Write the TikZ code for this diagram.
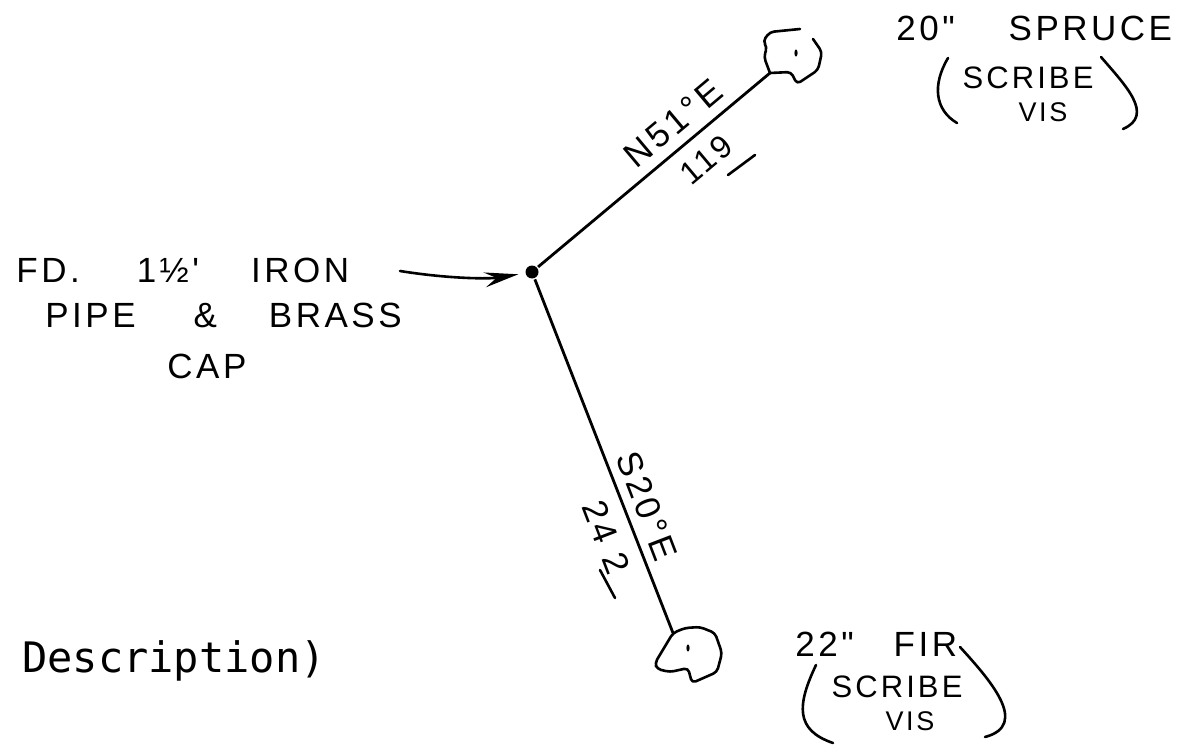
\documentclass[tikz,border=0pt]{standalone}
\usepackage{fontspec}
\setmainfont{Liberation Sans}
\setmonofont{DejaVu Sans Mono}
\usetikzlibrary{arrows.meta}
\newfontfamily\handfont[LetterSpace=10]{Liberation Sans}
\begin{document}
\begin{tikzpicture}[
  x=1pt, y=-1pt,
  line width=2.8pt,
  every node/.style = {inner sep=0pt, align=center},
  hand/.style = {font=\handfont\fontsize{35}{35}\selectfont},
  digits/.style = {font=\handfont\fontsize{32}{32}\selectfont},
  small/.style = {font=\handfont\fontsize{31}{31}\selectfont},
  tiny/.style = {font=\handfont\fontsize{27}{27}\selectfont},
  ink/.style = {line width=2.6pt, line cap=round, line join=round},
  pointer/.style = {ink, shorten >=6pt, -{Stealth[length=34pt,width=15pt,inset=12pt]}}
]
  \useasboundingbox (0,0) rectangle (1183,746);
  % the pipe and the two bearing trees
  \node (pipe) at (532,272) [circle, fill=black, minimum size=13pt] {};
  \coordinate (spruce) at (770,73);
  \coordinate (fir) at (673,633);
  \draw (pipe) -- (spruce);
  \draw (pipe) -- (fir);
  \draw[ink, rounded corners=4pt] (spruce) -- (764,57) -- (767,47) -- (763,41) -- (770,32) -- (800,29);
  \draw[ink, rounded corners=4pt] (813,39) -- (822,52) -- (818,70) -- (797,84) -- (791,72) -- (spruce);
  \fill (796,53) ellipse (1.6pt and 3.6pt);
  \draw[ink, rounded corners=4pt] (fir) -- (655,663) -- (657,669) -- (670,672) -- (688,668) -- (692,683) -- (717,672) -- (722,653) -- (715,633) -- (700,627) -- (685,628) -- cycle;
  \fill (688,648) ellipse (1.6pt and 3.6pt);

  % monument note
  \node (fd) at (15,270) [hand, anchor=west] {FD.\hspace{57pt}1½'\hspace{52pt}IRON};
  \node (brass) at (44,315) [hand, anchor=west] {PIPE\hspace{58pt}\&\hspace{52pt}BRASS};
  \node (cap) at (166,366) [hand, anchor=west] {CAP};
  \coordinate (tail) at (400,271);
  \draw[pointer] (tail) .. controls (450,279) and (490,279) .. (pipe);

  % bearings
  \node (north) at (673,123) [hand, rotate=40] {N51°E};
  \node (dist) at (706,160) [digits, rotate=40] {119};
  \draw[ink] (728,175) -- (755,155);
  \node (south) at (647,506) [hand, rotate=-69] {S20°E};
  \node (chain) at (606,537) [hand, rotate=-69] {24 2};
  \draw[ink] (600,570) -- (615,598);

  % tree notes
  \node (sprucename) at (895,28) [hand, anchor=west] {20"\hspace{54pt}SPRUCE};
  \node (sprucescribe) at (1028,78) [small] {SCRIBE};
  \node (sprucevis) at (1043,112) [tiny] {VIS};
  \draw[ink] (948,58) .. controls (932,85) and (935,110) .. (957,123);
  \draw[ink] (1101,57) .. controls (1125,85) and (1155,115) .. (1123,129);

  \node (firname) at (794,644) [hand, anchor=west] {22"\hspace{40pt}FIR};
  \node (firscribe) at (897,687) [small] {SCRIBE};
  \node (firvis) at (910,721) [tiny] {VIS};
  \draw[ink] (816,665) .. controls (797,705) and (795,730) .. (833,743);
  \draw[ink] (960,647) .. controls (990,680) and (1030,725) .. (985,737);

  \node (descr) at (174,661) [font=\ttfamily\fontsize{42}{42}\selectfont] {Description)};
\end{tikzpicture}
\end{document}
